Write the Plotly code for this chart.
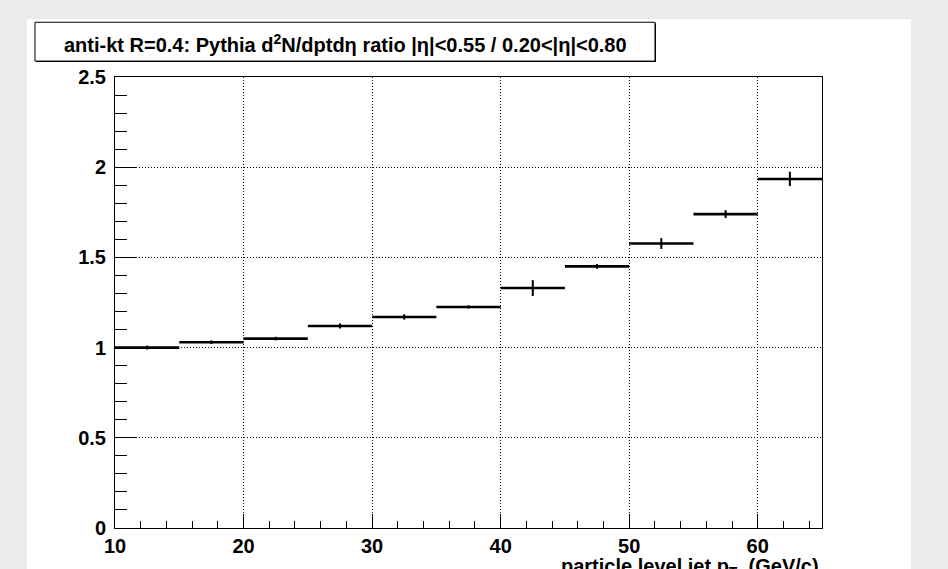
import plotly.graph_objects as go

# ---- data ----
bin_centers = [12.5, 17.5, 22.5, 27.5, 32.5, 37.5, 42.5, 47.5, 52.5, 57.5, 62.5]
bin_half_widths = [2.5] * 11
ratio = [1.00, 1.03, 1.05, 1.12, 1.17, 1.225, 1.33, 1.45, 1.577, 1.74, 1.935]
ratio_err = [0.011, 0.010, 0.010, 0.014, 0.015, 0.009, 0.044, 0.013, 0.030, 0.022, 0.040]
x_ticks = [10, 20, 30, 40, 50, 60]
y_ticks = [0, 0.5, 1, 1.5, 2, 2.5]
y_tick_labels = ["0", "0.5", "1", "1.5", "2", "2.5"]

W, H = 948, 569
L, R, T, B = 115, 822, 77, 530


def px(xp):
    return (xp - L) / (R - L)


def py(yp):
    return (B - yp) / (B - T)


fig = go.Figure()
fig.add_trace(go.Scatter(
    x=bin_centers, y=ratio, mode="markers",
    marker=dict(size=1, color="black"),
    error_x=dict(type="data", array=bin_half_widths, symmetric=True,
                 width=0, thickness=2.6, color="black"),
    error_y=dict(type="data", array=ratio_err, symmetric=True,
                 width=0, thickness=2, color="black"),
    showlegend=False, hoverinfo="skip",
))

tickfont = dict(family="Liberation Sans, Arial, sans-serif", size=20,
                color="black", weight="bold")

fig.update_layout(
    width=W, height=H,
    margin=dict(l=L, r=W - R, t=T, b=H - B),
    paper_bgcolor="#ebebeb",
    plot_bgcolor="white",
    xaxis=dict(
        range=[10, 65], tickvals=x_ticks, ticks="inside", ticklen=14,
        tickwidth=1, tickcolor="black",
        showline=True, linecolor="black", linewidth=1, mirror=True,
        showgrid=True, gridcolor="black", griddash="1px,2px", gridwidth=1,
        zeroline=False, tickfont=tickfont, ticklabelstandoff=0,
        minor=dict(dtick=2, tick0=10, ticks="inside", ticklen=7,
                   tickcolor="black", showgrid=False),
    ),
    yaxis=dict(
        range=[0, 2.5], tickvals=y_ticks, ticktext=y_tick_labels,
        ticks="inside", ticklen=22, tickwidth=1, tickcolor="black",
        showline=True, linecolor="black", linewidth=1, mirror=True,
        showgrid=True, gridcolor="black", griddash="1px,2px", gridwidth=1,
        zeroline=False, tickfont=tickfont, ticklabelstandoff=4,
        minor=dict(dtick=0.1, tick0=0, ticks="inside", ticklen=12,
                   tickcolor="black", showgrid=False),
    ),
    shapes=[
        # white pad
        dict(type="rect", xref="paper", yref="paper",
             x0=px(27), x1=px(911), y0=py(19), y1=py(575),
             fillcolor="white", line=dict(width=0), layer="below"),
        # title box shadow
        dict(type="rect", xref="paper", yref="paper",
             x0=px(36), x1=px(656), y0=py(23), y1=py(62),
             fillcolor="black", line=dict(width=0), layer="above"),
        # title box
        dict(type="rect", xref="paper", yref="paper",
             x0=px(35), x1=px(655), y0=py(22), y1=py(61),
             fillcolor="white", line=dict(width=1, color="black"), layer="above"),
    ],
    annotations=[
        dict(xref="paper", yref="paper", x=px(345), y=py(43),
             xanchor="center", yanchor="middle", showarrow=False,
             text="anti-kt R=0.4: Pythia d<sup>2</sup>N/dptdη ratio |η|<0.55 / 0.20<|η|<0.80",
             font=dict(family="Liberation Sans, Arial, sans-serif", size=20,
                       color="black", weight="bold")),
        dict(xref="paper", yref="paper", x=px(821), y=py(555),
             xanchor="right", yanchor="top", showarrow=False,
             text="particle level jet p<sub>T</sub>  (GeV/c)",
             font=dict(family="Liberation Sans, Arial, sans-serif", size=20,
                       color="black", weight="bold")),
    ],
)

fig.write_html("out.html")
